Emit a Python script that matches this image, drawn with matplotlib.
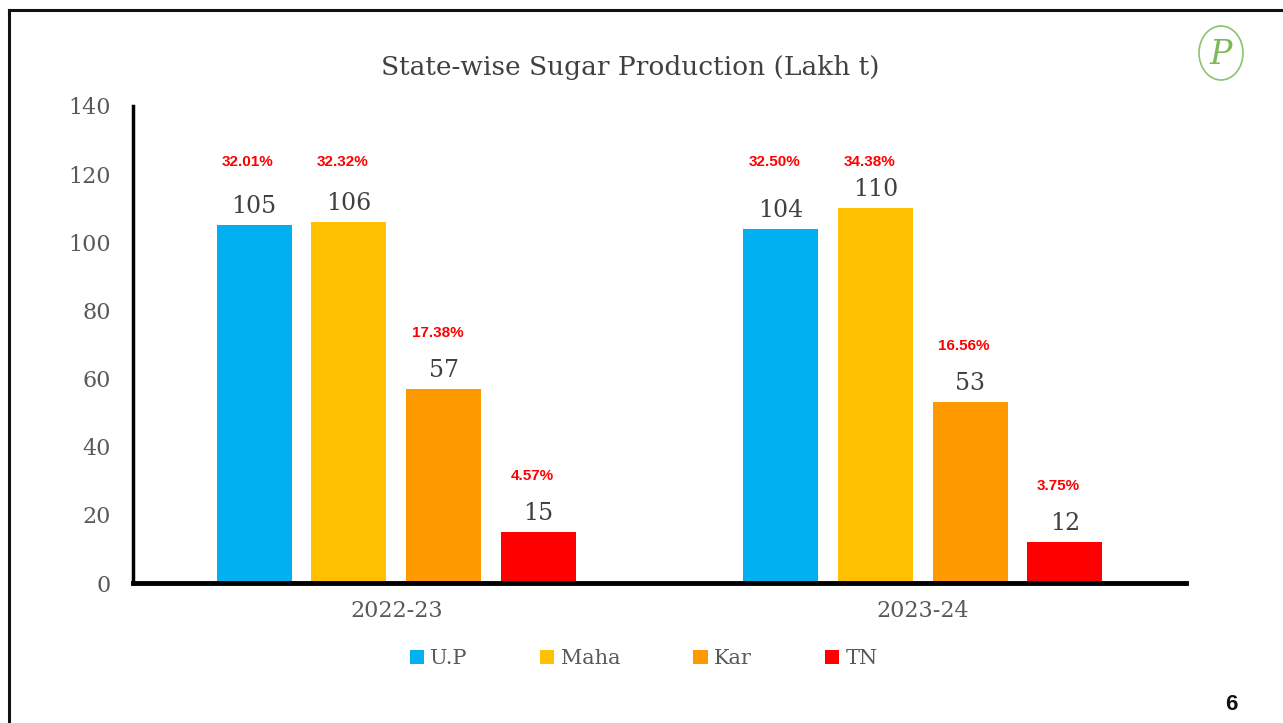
import numpy as np
import matplotlib.pyplot as plt
from matplotlib.patches import Ellipse
from matplotlib.lines import Line2D

# Dati
anni = ['2022-23', '2023-24']
stati = ['U.P', 'Maha', 'Kar', 'TN']
colori = ['#00B0F0', '#FFC000', '#FF9900', '#FF0000']
produzione = {
    'U.P': [105, 104],
    'Maha': [106, 110],
    'Kar': [57, 53],
    'TN': [15, 12],
}
quota = {
    'U.P': ['32.01%', '32.50%'],
    'Maha': ['32.32%', '34.38%'],
    'Kar': ['17.38%', '16.56%'],
    'TN': ['4.57%', '3.75%'],
}

serif = 'DejaVu Serif'
grigio = '#404040'

fig = plt.figure(figsize=(12.83, 7.23), dpi=100)
ax = fig.add_axes([0.1037, 0.1936, 0.8207, 0.6598])

x = np.arange(len(anni))
larghezza = 0.1425
passo = 0.18

for i, s in enumerate(stati):
    pos = x + (i - 1.5) * passo
    ax.bar(pos, produzione[s], larghezza, color=colori[i], label=s)
    for xp, v, q in zip(pos, produzione[s], quota[s]):
        ax.annotate(str(v), (xp, v), xytext=(0, 5), textcoords='offset points',
                    ha='center', va='bottom', fontsize=17, family=serif, color=grigio)
        # le percentuali in alto sono allineate sulla stessa riga
        yq = 123.5 if v > 90 else v + 16.5
        ax.text(xp - 0.012, yq, q, ha='center', va='center', fontsize=11,
                fontweight='bold', family='Liberation Sans', color='#FF0000')

ax.set_xlim(-0.5, 1.5)
ax.set_ylim(0, 140)
ax.set_yticks(range(0, 141, 20))
ax.set_xticks(x)
ax.set_xticklabels(anni)
ax.tick_params(length=0, labelsize=16, labelcolor='#595959', pad=12)
ax.tick_params(axis='y', pad=16)
for lab in ax.get_xticklabels() + ax.get_yticklabels():
    lab.set_family(serif)
ax.spines['top'].set_visible(False)
ax.spines['right'].set_visible(False)
ax.spines['left'].set_linewidth(2.5)
ax.spines['bottom'].set_linewidth(3.5)

ax.legend(loc='upper center', bbox_to_anchor=(0.485, -0.1), ncol=4, frameon=False,
          handlelength=0.7, handleheight=0.7, handletextpad=0.3, columnspacing=3.5,
          prop={'family': serif, 'size': 15}, labelcolor='#595959')

fig.text(0.491, 0.906, 'State-wise Sugar Production (Lakh t)', ha='center', va='center',
         fontsize=19, family=serif, color=grigio)

# cornice della slide
fig.add_artist(Line2D([9 / 1283, 1], [1 - 10 / 723, 1 - 10 / 723], color='#111111', lw=2.2))
fig.add_artist(Line2D([9 / 1283, 9 / 1283], [0, 1 - 10 / 723], color='#111111', lw=2.2))

# logo
fig.add_artist(Ellipse((1221 / 1283, 1 - 53 / 723), 44 / 1283, 54 / 723,
                       fill=False, edgecolor='#8DC26F', lw=1.2, transform=fig.transFigure))
fig.text(1221 / 1283, 1 - 55 / 723, 'P', ha='center', va='center', fontsize=24,
         family=serif, style='italic', color='#7DB85A')

fig.text(1231 / 1283, 1 - 705 / 723, '6', ha='center', va='center', fontsize=16,
         fontweight='bold', family='Liberation Sans', color='#111111')

plt.savefig('out.png', dpi=100)
